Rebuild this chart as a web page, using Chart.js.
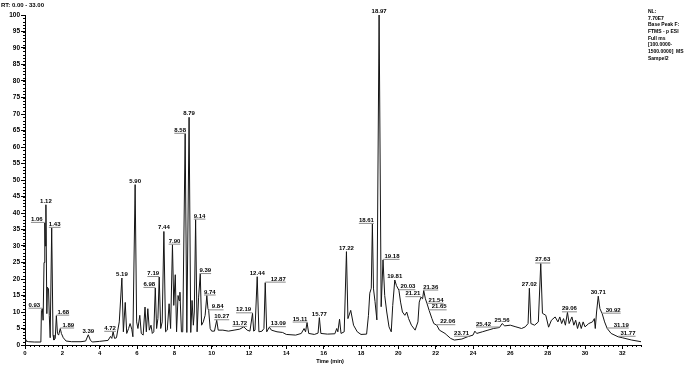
<!DOCTYPE html>
<html>
<head>
<meta charset="utf-8">
<script src="https://cdn.jsdelivr.net/npm/chart.js@4.4.1/dist/chart.umd.min.js"></script>
<style>
  html, body { margin: 0; padding: 0; background: #fff; }
  #wrap { width: 690px; height: 367px; }
</style>
</head>
<body>
<div id="wrap"><canvas id="chart" width="690" height="367"></canvas></div>
<script>

// retention time (min) and relative abundance
const times = [
  0.00, 0.05, 0.2, 0.5, 0.85, 0.88, 0.93, 0.97, 1.02, 1.06, 1.09, 1.12, 1.17, 1.20, 1.26, 1.30, 1.35, 1.43, 1.50, 1.55,
  1.62, 1.68, 1.74, 1.80, 1.89, 1.95, 2.05, 2.2, 2.5, 3.0, 3.25, 3.39, 3.5, 3.6, 4.0, 4.45, 4.58, 4.65, 4.72, 4.80,
  4.9, 5.05, 5.19, 5.27, 5.37, 5.45, 5.55, 5.63, 5.72, 5.78, 5.90, 5.98, 6.05, 6.15, 6.23, 6.33, 6.43, 6.50, 6.58, 6.66,
  6.75, 6.82, 6.90, 6.98, 7.05, 7.12, 7.19, 7.27, 7.35, 7.44, 7.53, 7.62, 7.72, 7.80, 7.90, 7.97, 8.05, 8.12, 8.20, 8.25,
  8.30, 8.38, 8.45, 8.58, 8.67, 8.79, 8.88, 8.95, 9.02, 9.07, 9.14, 9.22, 9.30, 9.39, 9.46, 9.55, 9.65, 9.74, 9.80, 9.84,
  9.92, 10.0, 10.15, 10.27, 10.35, 10.6, 10.9, 11.2, 11.5, 11.72, 11.9, 12.05, 12.19, 12.25, 12.32, 12.44, 12.53, 12.7, 12.80, 12.87,
  12.95, 13.09, 13.2, 13.5, 13.8, 14.0, 14.5, 14.8, 14.95, 15.03, 15.11, 15.2, 15.5, 15.7, 15.77, 15.85, 16.2, 16.6, 16.7, 16.76,
  16.85, 16.93, 17.1, 17.22, 17.30, 17.45, 17.6, 17.8, 18.0, 18.3, 18.4, 18.47, 18.55, 18.61, 18.67, 18.75, 18.85, 18.97, 19.08, 19.18,
  19.27, 19.38, 19.5, 19.62, 19.70, 19.81, 19.9, 20.03, 20.12, 20.22, 20.35, 20.45, 20.55, 20.7, 20.9, 21.05, 21.12, 21.21, 21.30, 21.36,
  21.45, 21.54, 21.65, 21.8, 21.9, 22.06, 22.2, 22.5, 22.6, 22.8, 23.0, 23.4, 23.71, 24.0, 24.1, 24.2, 24.5, 24.8, 25.1, 25.42,
  25.56, 25.7, 26.0, 26.3, 26.6, 26.8, 26.95, 27.02, 27.1, 27.3, 27.5, 27.63, 27.72, 27.9, 28.05, 28.2, 28.4, 28.55, 28.65, 28.75,
  28.85, 28.95, 29.06, 29.15, 29.3, 29.4, 29.5, 29.6, 29.7, 29.8, 29.9, 30.0, 30.2, 30.4, 30.5, 30.55, 30.62, 30.71, 30.8, 30.92,
  31.05, 31.19, 31.4, 31.77, 32.0, 32.5, 33.0
]
const abundance = [
  1.6, 1.2, 1.0, 0.9, 0.9, 10.5, 11.0, 7.5, 25, 37, 30, 42.5, 9.5, 17.5, 17, 9, 2.2, 35.5, 3, 1.5,
  2, 8.9, 3.5, 3, 5, 3.5, 2.2, 1.2, 1.0, 1.0, 1.2, 3.1, 1.5, 0.9, 1.1, 1.4, 2.6, 2.0, 4.0, 2.0,
  2.2, 7, 20.3, 4, 12.9, 3.5, 5, 6.5, 4.8, 2.5, 48.6, 7, 5, 9, 3.5, 3, 11.5, 4, 11, 4.5,
  6, 3.5, 4, 17.3, 5, 8, 20.6, 5, 7, 34.4, 4, 4.5, 12.5, 5, 30.4, 12, 21.3, 4, 15, 13.5,
  16, 4, 4, 64, 3.8, 69, 3.8, 13.5, 6, 10, 38, 4, 14.5, 21.5, 6, 7, 9, 15, 11, 10.5,
  5, 4.2, 4.2, 7.5, 4.5, 4.5, 4.2, 4.5, 4.8, 5.5, 4.5, 4.2, 9.6, 4.2, 4.5, 20.7, 4, 4.2, 5, 18.9,
  4, 5.4, 4.5, 4.0, 3.8, 3.2, 3.0, 3.5, 5, 4, 6.8, 3.5, 3.2, 3.6, 8.3, 3.5, 3.3, 3.4, 5, 4,
  7.8, 3.5, 4, 28.3, 8, 10.5, 6, 4, 3.2, 3.3, 9, 15.7, 17.2, 36.7, 17, 13.2, 7.6, 100, 11.6, 25.8,
  15, 10, 5.5, 4.0, 12, 19.7, 18, 16.6, 13, 10, 9, 10, 8, 6, 4.5, 7, 13, 14.5, 14, 16.5,
  14, 12.5, 10.5, 8, 6.5, 6, 4.5, 3.5, 3.0, 2.0, 1.5, 1.8, 2.5, 3.0, 4.2, 3.5, 4, 4.5, 5, 5.3,
  6.5, 5.8, 6, 5.5, 5, 5.5, 6.5, 17.2, 6.5, 6, 7, 24.7, 9.6, 9, 5.4, 7.5, 8.5, 7, 8.5, 6.5,
  8, 6, 9.9, 6.5, 8.5, 6, 7.5, 5, 7, 5, 7, 5.5, 6.5, 7, 8, 5, 10, 14.8, 11, 9.5,
  7, 5, 3.5, 2.5, 2.2, 1.5, 1.0
]

// labelled peaks
const peakRts = [0.93, 1.06, 1.12, 1.43, 1.68, 1.89, 3.39, 4.72, 5.19, 5.90, 6.98, 7.19, 7.44, 7.90, 8.58, 8.79, 9.14, 9.39, 9.74, 9.84,
  10.27, 11.72, 12.19, 12.44, 12.87, 13.09, 15.11, 15.77, 17.22, 18.61, 18.97, 19.18, 19.81, 20.03, 21.21, 21.36, 21.54, 21.65, 22.06, 23.71,
  25.42, 25.56, 27.02, 27.63, 29.06, 30.71, 30.92, 31.19, 31.77]

const xTicks = [0, 2, 4, 6, 8, 10, 12, 14, 16, 18, 20, 22, 24, 26, 28, 30, 32]
const yTicks = [0, 5, 10, 15, 20, 25, 30, 35, 40, 45, 50, 55, 60, 65, 70, 75, 80, 85, 90, 95, 100]

const rangeText = 'RT: 0.00 - 33.00'
const infoLines = ['NL:', '7.70E7', 'Base Peak F:', 'FTMS - p ESI', 'Full ms', '[100.0000-', '1500.0000]  MS', 'Sampel2']
const xTitle = 'Time (min)'

const fontFam = '"Liberation Sans", Arial, sans-serif'

// sideways nudge (px) for labels that Xcalibur pushed off the apex
const labelNudge = {
  '0.93': -8, '1.06': -8, '1.43': 3, '1.68': 7, '1.89': 8, '4.72': -3, '6.98': -6, '7.19': -6, '7.90': 2,
  '8.58': -5, '9.14': 4, '9.39': 5, '9.74': 3, '9.84': 9, '10.27': 5, '11.72': -4, '12.19': -9, '12.87': 13,
  '13.09': 9, '15.11': -7, '18.61': -6, '19.18': 9, '20.03': 9, '21.21': -8, '21.36': 7, '21.54': 9,
  '21.65': 10, '22.06': 11, '23.71': -6, '25.42': -16, '27.63': 2, '29.06': 2, '30.92': 11, '31.19': 14, '31.77': 10
}

const peakLabels = {
  id: 'peakLabels',
  afterDatasetsDraw(chart) {
    const ctx = chart.ctx
    const xs = chart.scales.x
    const ys = chart.scales.y
    ctx.save()
    ctx.font = 'bold 6px ' + fontFam
    ctx.textAlign = 'center'
    ctx.textBaseline = 'alphabetic'
    peakRts.forEach((rt) => {
      let idx = 0
      times.forEach((t, i) => { if (Math.abs(t - rt) < Math.abs(times[idx] - rt)) idx = i })
      const px = xs.getPixelForValue(rt)
      const py = ys.getPixelForValue(abundance[idx])
      const txt = rt.toFixed(2)
      const dx = labelNudge[txt] || 0
      const tx = px + dx
      const ty = Math.max(py - 2, 8)
      if (dx !== 0) {
        const w = ctx.measureText(txt).width
        ctx.strokeStyle = '#8a8a8a'
        ctx.lineWidth = 1
        ctx.beginPath()
        ctx.moveTo(Math.min(tx - w / 2, px), py - 0.5)
        ctx.lineTo(Math.max(tx + w / 2, px), py - 0.5)
        ctx.stroke()
      }
      ctx.fillStyle = '#000'
      ctx.fillText(txt, tx, ty)
    })
    ctx.restore()
  }
}

const extras = {
  id: 'extras',
  afterDraw(chart) {
    const ctx = chart.ctx
    const xs = chart.scales.x
    const ys = chart.scales.y
    const area = chart.chartArea
    ctx.save()
    ctx.strokeStyle = '#000'
    ctx.lineWidth = 1
    ctx.beginPath()
    // minor ticks
    for (let v = 0; v <= 100; v += 1) {
      const y = Math.round(ys.getPixelForValue(v)) + 0.5
      ctx.moveTo(area.left - 2, y)
      ctx.lineTo(area.left, y)
    }
    for (let v = 0; v <= 33; v += 0.25) {
      const x = Math.round(xs.getPixelForValue(v)) + 0.5
      ctx.moveTo(x, area.bottom)
      ctx.lineTo(x, area.bottom + 2)
    }
    ctx.stroke()

    ctx.fillStyle = '#000'
    ctx.textAlign = 'left'
    ctx.textBaseline = 'middle'
    ctx.font = 'bold 6px ' + fontFam
    ctx.fillText(rangeText, 1, 5)

    ctx.font = 'bold 5px ' + fontFam
    infoLines.forEach((line, i) => {
      ctx.fillText(line, 648, 11.5 + i * 6.7)
    })

    ctx.textAlign = 'center'
    ctx.font = 'bold 5.5px ' + fontFam
    ctx.fillText(xTitle, 330, 361)
    ctx.restore()
  }
}

const data = {
  datasets: [{
    label: 'Base Peak',
    data: times.map((t, i) => ({ x: t, y: abundance[i] })),
    borderColor: '#141414',
    borderWidth: 1,
    pointRadius: 0,
    tension: 0,
    fill: false
  }]
}

const config = {
  type: 'line',
  data: data,
  options: {
    responsive: false,
    animation: false,
    devicePixelRatio: 1,
    layout: { padding: { top: 15, right: 49, left: 0, bottom: 0 } },
    plugins: {
      legend: { display: false },
      tooltip: { enabled: false }
    },
    scales: {
      x: {
        type: 'linear',
        min: 0,
        max: 33,
        afterFit: (s) => { s.height = 22 },
        afterBuildTicks: (s) => { s.ticks = xTicks.map((v) => ({ value: v })) },
        ticks: {
          font: { family: fontFam, size: 6, weight: 'bold' },
          color: '#000',
          padding: 1,
          maxRotation: 0,
          autoSkip: false
        },
        grid: { drawOnChartArea: false, tickLength: 4, tickColor: '#000' },
        border: { color: '#000', width: 1 }
      },
      y: {
        min: 0,
        max: 100,
        afterFit: (s) => { s.width = 25 },
        afterBuildTicks: (s) => { s.ticks = yTicks.map((v) => ({ value: v })) },
        ticks: {
          font: { family: fontFam, size: 6.5, weight: 'bold' },
          color: '#000',
          padding: 1,
          autoSkip: false
        },
        grid: { drawOnChartArea: false, tickLength: 4, tickColor: '#000' },
        border: { color: '#000', width: 1 }
      }
    }
  },
  plugins: [peakLabels, extras]
}

const canvasChart = document.getElementById('chart')
const chromatogram = new Chart(canvasChart, config)

</script>
</body>
</html>
